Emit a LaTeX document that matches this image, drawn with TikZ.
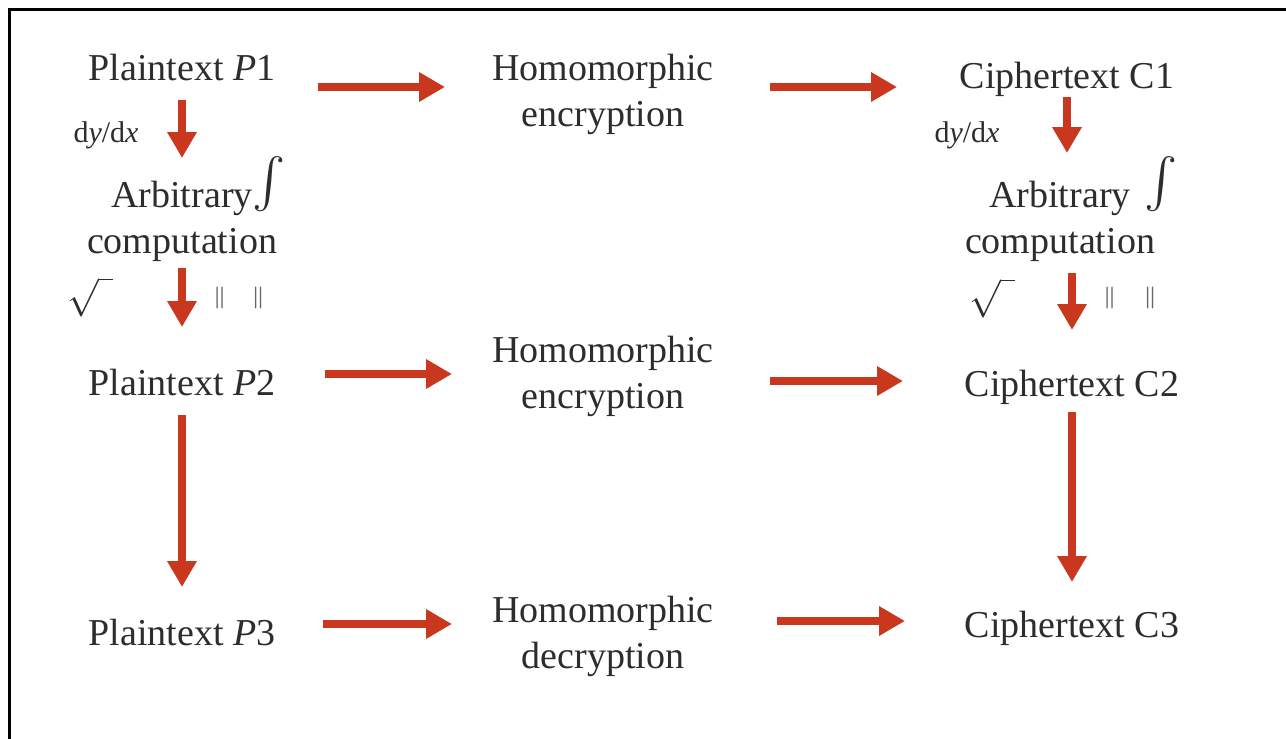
\RequirePackage{fix-cm}
\documentclass[tikz,border=0pt]{standalone}
\usepackage{exscale}
\usepackage{fontspec}
\setmainfont{Liberation Serif}
\usetikzlibrary{arrows.meta,calc}
\definecolor{inkgray}{RGB}{45,45,45}
\definecolor{flowred}{RGB}{200,55,30}
% slanted integral sign sitting on the baseline
\newcommand{\intglyph}{\smash{\raisebox{5.5pt}{\fontsize{23}{23}\selectfont$\int$}}}
% a pair of double bars
\newcommand{\barpair}[1]{{\boldmath$\|$}\hspace{#1}{\boldmath$\|$}}
\begin{document}
\begin{tikzpicture}[x=0.5pt,y=-0.5pt,
  lbl/.style={anchor=base, inner sep=0pt, text=inkgray, font=\fontsize{19}{23}\selectfont},
  note/.style={anchor=base, inner sep=0pt, text=inkgray, font=\fontsize{15}{18}\selectfont},
  sym/.style={inner sep=0pt, text=inkgray},
  flow/.style={draw=flowred, line width=4pt, -{Triangle[width=14pt,length=13pt]}}]
\useasboundingbox (0,0) rectangle (1286,739);
\fill[white] (0,0) rectangle (1286,739);
\draw[line width=1.5pt] (9,739) -- (9,9) -- (1286,9);

% left column
\node[lbl] (p1) at (182,80) {Plaintext \textit{P}1};
\node[note] (d1) at (106,142) {d\textit{y}/d\textit{x}};
\node[lbl] (arb1) at (182,207) {\begin{tabular}[t]{@{}c@{}}Arbitrary\rlap{\intglyph}\\computation\end{tabular}};
\node[sym, font=\fontsize{19}{23}\selectfont] (r1) at (90,297) {$\sqrt{\hspace{7pt}}$};
\node[sym, font=\fontsize{11}{13}\selectfont, text=gray!80!black] (b1) at (239,298) {\barpair{13pt}};
\node[lbl] (p2) at (182,395) {Plaintext \textit{P}2};
\node[lbl] (p3) at (182,645) {Plaintext \textit{P}3};

% middle column
\node[lbl] (he1) at (603,80) {\begin{tabular}[t]{@{}c@{}}Homomorphic\\encryption\end{tabular}};
\node[lbl] (he2) at (603,362) {\begin{tabular}[t]{@{}c@{}}Homomorphic\\encryption\end{tabular}};
\node[lbl] (hd) at (603,622) {\begin{tabular}[t]{@{}c@{}}Homomorphic\\decryption\end{tabular}};

% right column
\node[lbl] (c1) at (1067,88) {Ciphertext C1};
\node[note] (d2) at (967,142) {d\textit{y}/d\textit{x}};
\node[lbl] (arb2) at (1060,207) {\begin{tabular}[t]{@{}c@{}}Arbitrary\rlap{\hspace{7pt}\intglyph}\\computation\end{tabular}};
\node[sym, font=\fontsize{19}{23}\selectfont] (r2) at (992,298) {$\sqrt{\hspace{7pt}}$};
\node[sym, font=\fontsize{11}{13}\selectfont, text=gray!80!black] (b2) at (1130,298) {\barpair{14pt}};
\node[lbl] (c2) at (1072,396) {Ciphertext C2};
\node[lbl] (c3) at (1072,637) {Ciphertext C3};

% horizontal flows
\draw[flow, shorten <=68pt, shorten >=79pt] ($(p1.base)+(0,7)$) -- ($(p1.base -| he1.base)+(0,7)$);
\draw[flow, shorten <=83.5pt, shorten >=85pt] ($(he1.base)+(0,7)$) -- ($(he1.base -| c1.base)+(0,7)$);
\draw[flow, shorten <=71.5pt, shorten >=75.5pt] ($(p2.base)+(0,-21)$) -- ($(p2.base -| he2.base)+(0,-21)$);
\draw[flow, shorten <=83.5pt, shorten >=84.5pt] ($(he2.base)+(0,19)$) -- ($(he2.base -| c2.base)+(0,19)$);
\draw[flow, shorten <=70.5pt, shorten >=75.5pt] ($(p3.base)+(0,-21)$) -- ($(p3.base -| hd.base)+(0,-21)$);
\draw[flow, shorten <=87pt, shorten >=83.5pt] ($(hd.base)+(0,-1)$) -- ($(hd.base -| c3.base)+(0,-1)$);

% vertical flows
\draw[flow, shorten <=10pt, shorten >=24.5pt] (p1.base) -- (arb1.base);
\draw[flow, shorten <=30.5pt, shorten >=34pt] (arb1.base) -- (p2.base);
\draw[flow, shorten <=10pt, shorten >=29pt] (p2.base) -- (p3.base);
\draw[flow, shorten <=4.5pt, shorten >=27pt] (c1.base) -- (c1.base |- arb2.base);
\draw[flow, shorten <=33pt, shorten >=33pt] (c2.base |- arb2.base) -- (c2.base);
\draw[flow, shorten <=8pt, shorten >=27.5pt] (c2.base) -- (c3.base);
\end{tikzpicture}
\end{document}
